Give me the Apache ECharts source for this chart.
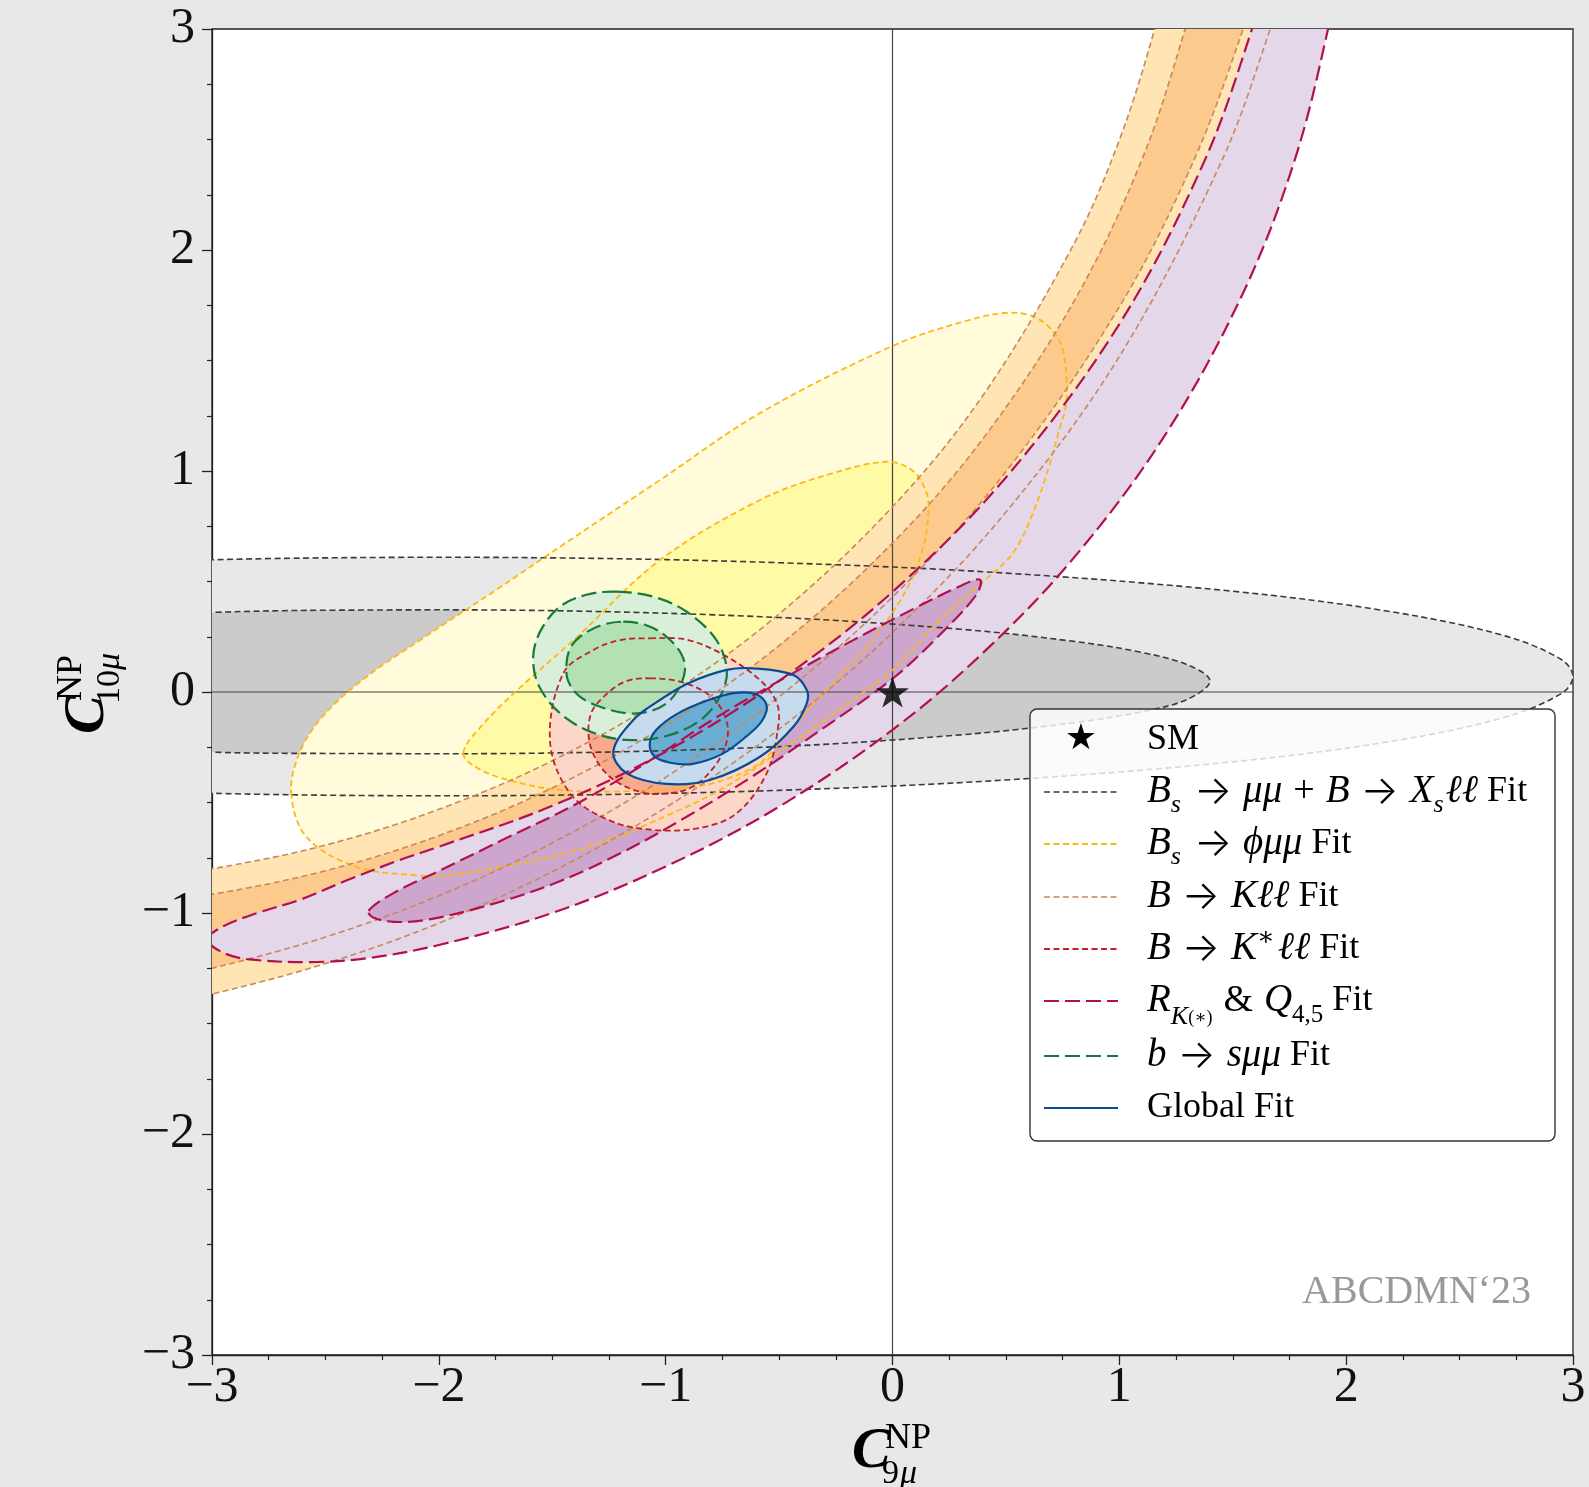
<!DOCTYPE html>
<html><head><meta charset="utf-8">
<script src="https://cdn.jsdelivr.net/npm/echarts@6/dist/echarts.min.js"></script>
<style>html,body{margin:0;padding:0;background:#e7e8e8}#c{width:1589px;height:1487px}</style>
</head><body><div id="c"></div>
<script>
// ---------- axis / tick data ----------
const xTicks = [-3, -2, -1, 0, 1, 2, 3];
const yTicks = [-3, -2, -1, 0, 1, 2, 3];
const zeroLineH = [[-3, 0], [3, 0]];
const zeroLineV = [[0, -3], [0, 3]];
const smPoint = [[0, 0]];

// ---------- contour outlines (C9, C10) ----------
// Bs->mumu + B->Xs ll
const grayOuter = [[-4,0.565],[-3.4,0.588],[-2.5,0.607],[-1.5,0.607],[-0.5,0.585],[0.5,0.538],[1.5,0.456],[2.2,0.363],[2.7,0.254],[2.95,0.146],[3.0,0.07],[2.95,-0.006],[2.7,-0.114],[2.2,-0.223],[1.5,-0.316],[0.5,-0.398],[-0.5,-0.445],[-1.5,-0.467],[-2.5,-0.467],[-3.4,-0.448],[-4,-0.425]];
const grayInner = [[-3.6,0.332],[-3,0.36],[-2.5,0.37],[-1.5,0.368],[-0.5,0.337],[0.3,0.284],[0.8,0.229],[1.1,0.179],[1.3,0.123],[1.4,0.05],[1.3,-0.033],[1.1,-0.089],[0.8,-0.139],[0.3,-0.194],[-0.5,-0.247],[-1.5,-0.276],[-2.5,-0.278],[-3,-0.272],[-3.6,-0.242]];
// Bs->phi mumu
const phiOuter = [[-2.65,-0.47],[-2.62,-0.29],[-2.52,-0.12],[-2.33,0.06],[-2.06,0.25],[-1.75,0.46],[-1.466,0.657],[-1.025,0.959],[-0.584,1.262],[0.0,1.566],[0.3,1.672],[0.505,1.716],[0.64,1.69],[0.735,1.59],[0.765,1.45],[0.765,1.30],[0.739,1.2],[0.69,1.02],[0.619,0.81],[0.531,0.629],[0.40,0.50],[0.209,0.326],[0.0,0.10],[-0.25,-0.09],[-0.466,-0.247],[-0.76,-0.443],[-1.069,-0.593],[-1.29,-0.683],[-1.51,-0.747],[-1.731,-0.792],[-1.951,-0.828],[-2.114,-0.828],[-2.361,-0.792],[-2.58,-0.66]];
const phiInner = [[-1.892,-0.277],[-1.80,-0.14],[-1.642,0.02],[-1.4,0.24],[-1.025,0.597],[-0.584,0.869],[-0.29,0.982],[-0.026,1.042],[0.09,1.0],[0.151,0.899],[0.158,0.809],[0.136,0.657],[0.06,0.46],[-0.1,0.22],[-0.3,0.0],[-0.45,-0.17],[-0.584,-0.321],[-0.75,-0.40],[-0.878,-0.428],[-1.2,-0.45],[-1.466,-0.443],[-1.65,-0.41],[-1.82,-0.35]];
// B->K ll band edges
const kllO1 = [[-3.3,-0.839],[-3,-0.8],[-2.5,-0.693],[-2,-0.531],[-1.5,-0.311],[-1,-0.021],[-0.5,0.353],[0,0.838],[0.4,1.344],[0.8,2.028],[1.001,2.5],[1.156,3.0],[1.224,3.3]];
const kllO4 = [[1.749,3.3],[1.665,3.0],[1.45,2.4],[1.0,1.518],[0.5,0.814],[0,0.269],[-0.5,-0.168],[-1,-0.523],[-1.5,-0.813],[-2,-1.046],[-2.5,-1.229],[-3,-1.367],[-3.3,-1.43]];
const kllI2 = [[-3.3,-0.956],[-3,-0.916],[-2.5,-0.809],[-2,-0.65],[-1.5,-0.434],[-1,-0.151],[-0.5,0.21],[0,0.674],[0.4,1.148],[0.8,1.768],[1.096,2.4],[1.29,3.0],[1.359,3.3]];
const kllI3 = [[1.63,3.3],[1.546,3.0],[1.326,2.4],[1.0,1.743],[0.5,0.997],[0,0.43],[-0.5,-0.021],[-1,-0.386],[-1.5,-0.683],[-2,-0.922],[-2.5,-1.109],[-3,-1.25],[-3.3,-1.313]];
// R_K(*) & Q4,5
const rkOuter = [[-3.02,-1.12],[-2.95,-1.06],[-2.8,-1.0],[-2.612,-0.94],[-2.4,-0.85],[-2.172,-0.76],[-2.0,-0.70],[-1.5,-0.515],[-1.0,-0.27],[-0.5,0.05],[0,0.453],[0.5,0.971],[1.0,1.665],[1.374,2.4],[1.585,3.0],[1.663,3.3],[1.967,3.3],[1.92,3.0],[1.771,2.4],[1.543,1.8],[1.2,1.16],[0.8,0.608],[0.4,0.178],[0,-0.171],[-0.5,-0.519],[-1.0,-0.79],[-1.5,-1.0],[-2.0,-1.145],[-2.318,-1.205],[-2.568,-1.222],[-2.834,-1.21],[-2.95,-1.18]];
const rkInner = [[-2.31,-0.99],[-2.2,-0.91],[-2.0,-0.81],[-1.7,-0.66],[-1.4,-0.51],[-1.1,-0.33],[-0.8,-0.13],[-0.5,0.05],[-0.2,0.22],[0.1,0.38],[0.3,0.48],[0.386,0.508],[0.37,0.44],[0.2,0.25],[0.0,0.06],[-0.3,-0.16],[-0.6,-0.37],[-0.9,-0.56],[-1.2,-0.73],[-1.5,-0.87],[-1.8,-0.97],[-2.05,-1.03],[-2.2,-1.04],[-2.29,-1.02]];
// B->K* ll
const kstOuter = [[-1.07,0.243],[-0.9,0.235],[-0.731,0.16],[-0.58,0.05],[-0.51,-0.05],[-0.503,-0.15],[-0.555,-0.368],[-0.687,-0.549],[-0.85,-0.615],[-1.055,-0.624],[-1.25,-0.58],[-1.422,-0.458],[-1.51,-0.22],[-1.451,0.085],[-1.319,0.19],[-1.2,0.235]];
const kstInner = [[-1.07,0.062],[-0.93,0.045],[-0.8,-0.02],[-0.735,-0.12],[-0.73,-0.22],[-0.78,-0.33],[-0.88,-0.428],[-1.0,-0.46],[-1.12,-0.45],[-1.25,-0.38],[-1.33,-0.25],[-1.33,-0.1],[-1.25,0.0],[-1.17,0.05]];
// b->s mumu
const bsmmOuter = [[-1.216,0.454],[-1.05,0.43],[-0.907,0.363],[-0.78,0.24],[-0.73,0.10],[-0.76,-0.02],[-0.85,-0.13],[-1.0,-0.2],[-1.172,-0.217],[-1.33,-0.18],[-1.466,-0.096],[-1.56,0.03],[-1.584,0.16],[-1.55,0.28],[-1.466,0.386],[-1.35,0.44]];
const bsmmInner = [[-1.187,0.318],[-1.08,0.3],[-0.996,0.25],[-0.93,0.17],[-0.915,0.1],[-0.94,0.02],[-0.996,-0.051],[-1.08,-0.09],[-1.172,-0.096],[-1.28,-0.07],[-1.378,-0.021],[-1.43,0.05],[-1.437,0.13],[-1.42,0.2],[-1.378,0.25],[-1.29,0.3]];
// global fit
const globalOuter = [[-0.378,0.009],[-0.437,0.077],[-0.614,0.107],[-0.731,0.1],[-0.9,0.04],[-1.025,-0.036],[-1.143,-0.127],[-1.231,-0.27],[-1.172,-0.368],[-0.996,-0.416],[-0.805,-0.398],[-0.584,-0.293],[-0.437,-0.157],[-0.378,-0.051]];
const globalInner = [[-0.555,-0.06],[-0.6,-0.01],[-0.70,-0.005],[-0.82,-0.04],[-0.951,-0.1],[-1.04,-0.17],[-1.07,-0.232],[-1.05,-0.29],[-0.98,-0.32],[-0.88,-0.325],[-0.75,-0.28],[-0.643,-0.2],[-0.575,-0.13]];

const kllOuter = kllO1.concat(kllO4);
const kllInner = kllI2.concat(kllI3);

// ---------- styles ----------
const C = {
  gray:  {line:'#3a3a3a', dash:[6,3.5], w:1.6, f1:'#e8e8e8', f2:'#cbcbcb'},
  phi:   {line:'#fdb913', dash:[6,3.5], w:1.8, f1:'#fffbdb', f2:'#fffaa6'},
  kll:   {line:'#c9875a', dash:[6,3.5], w:1.6, f1:'#fee5b3', f2:'#fdca8e'},
  kst:   {line:'#c1202c', dash:[6,3.5], w:1.8, f1:'#fcd6c6', f2:'#f9aa8c'},
  rk:    {line:'#b3104e', dash:[15,6],  w:2.2, f1:'#e3d7e9', f2:'#cda6ce'},
  bsmm:  {line:'#177a38', dash:[15,6],  w:2.2, f1:'#d9efda', f2:'#b4e1b3'},
  glob:  {line:'#0b4b92', dash:null,    w:2.2, f1:'#c6dbee', f2:'#6aaed6'}
};

const fillLayers = [
  [grayOuter,'gray','f1'],[grayInner,'gray','f2'],
  [phiOuter,'phi','f1'],[phiInner,'phi','f2'],
  [kllOuter,'kll','f1'],[kllInner,'kll','f2'],
  [rkOuter,'rk','f1'],[rkInner,'rk','f2'],
  [kstOuter,'kst','f1'],[kstInner,'kst','f2'],
  [bsmmOuter,'bsmm','f1'],[bsmmInner,'bsmm','f2'],
  [globalOuter,'glob','f1'],[globalInner,'glob','f2']
];
const strokeLayers = [
  [grayOuter,'gray'],[grayInner,'gray'],
  [phiOuter,'phi'],[phiInner,'phi'],
  [kllOuter,'kll'],[kllInner,'kll'],
  [kstOuter,'kst'],[kstInner,'kst'],
  [rkOuter,'rk'],[rkInner,'rk'],
  [bsmmOuter,'bsmm'],[bsmmInner,'bsmm'],
  [globalOuter,'glob'],[globalInner,'glob']
];

function clipOf(params){
  const cs = params.coordSys;
  return {type:'rect', shape:{x:cs.x, y:cs.y, width:cs.width, height:cs.height}};
}
function renderFill(params, api){
  const L = fillLayers[params.dataIndex];
  return {type:'polygon', shape:{points:L[0].map(p=>api.coord(p)), smooth:0.35},
    style:{fill:C[L[1]][L[2]], stroke:null}, clipPath:clipOf(params)};
}
function renderStroke(params, api){
  const L = strokeLayers[params.dataIndex];
  const s = C[L[1]];
  return {type:'polygon', shape:{points:L[0].map(p=>api.coord(p)), smooth:0.35},
    style:{fill:null, stroke:s.line, lineWidth:s.w, lineDash:s.dash}, clipPath:clipOf(params)};
}

const serif = "'Liberation Serif','DejaVu Serif',serif";
const fmt = v => (v < 0 ? '\u2212' + Math.abs(v) : String(v));

// ---------- legend ----------
const legendEntries = [
  {key:'sm',  text:'{n|SM}'},
  {key:'gray',text:'{i|B}{sub|s}{ar|\u2192}{i|\u03bc\u03bc}{op|+}{i|B}{ar|\u2192}{i|X}{sub|s}{i|\u2113\u2113}{n| Fit}'},
  {key:'phi', text:'{i|B}{sub|s}{ar|\u2192}{i|\u03d5\u03bc\u03bc}{n| Fit}'},
  {key:'kll', text:'{i|B}{ar|\u2192}{i|K\u2113\u2113}{n| Fit}'},
  {key:'kst', text:'{i|B}{ar|\u2192}{i|K}{sup|\u2217}{i|\u2113\u2113}{n| Fit}'},
  {key:'rk',  text:'{i|R}{subi|K}{subs|(\u2217)}{op|&}{i|Q}{sub2|4,5}{n| Fit}'},
  {key:'bsmm',text:'{i|b}{ar|\u2192}{i|s\u03bc\u03bc}{n| Fit}'},
  {key:'glob',text:'{n|Global Fit}'}
];
const legendRowY = [740, 792, 844, 897, 949, 1001, 1056, 1108];
const rich = {
  n:{fontFamily:serif, fontSize:36, color:'#111', lineHeight:44},
  i:{fontFamily:serif, fontStyle:'italic', fontSize:39, color:'#111', lineHeight:44},
  ar:{fontFamily:"'Inter','Noto Sans','DejaVu Sans'", fontWeight:300, fontSize:40, color:'#111', lineHeight:44, padding:[0,11,0,11]},
  op:{fontFamily:serif, fontSize:38, color:'#111', lineHeight:44, padding:[0,11,0,11]},
  sub:{fontFamily:serif, fontStyle:'italic', fontSize:26, color:'#111', lineHeight:26, verticalAlign:'bottom', padding:[0,2,-4,0]},
  sub2:{fontFamily:serif, fontSize:25, color:'#111', lineHeight:25, verticalAlign:'bottom', padding:[0,0,-5,0]},
  subi:{fontFamily:serif, fontStyle:'italic', fontSize:26, color:'#111', lineHeight:26, verticalAlign:'bottom', padding:[0,0,-7,0]},
  subs:{fontFamily:serif, fontSize:18, color:'#111', lineHeight:18, verticalAlign:'bottom', padding:[0,0,-4,0]},
  sup:{fontFamily:serif, fontSize:26, color:'#111', lineHeight:26, verticalAlign:'top', padding:[-2,3,0,0]}
};
const graphics = [
  {type:'rect', z:100, shape:{x:1030, y:709, width:525, height:432, r:7},
   style:{fill:'rgba(255,255,255,0.8)', stroke:'#333', lineWidth:1.4}}
];
legendEntries.forEach((e, k) => {
  const y = legendRowY[k];
  if (e.key === 'sm') {
    graphics.push({type:'text', z:101, x:1081, y:y, style:{text:'\u2605', fontFamily:"'DejaVu Sans'", fontSize:36, fill:'#000', align:'center', verticalAlign:'middle'}});
  } else {
    const s = C[e.key];
    graphics.push({type:'line', z:101, shape:{x1:1044, y1:y, x2:1118, y2:y},
      style:{stroke:s.line, lineWidth:s.w, lineDash:s.dash}});
  }
  graphics.push({type:'text', z:101, x:1147, y:y, style:{text:e.text, rich:rich, align:'left', verticalAlign:'middle'}});
});
// watermark
graphics.push({type:'text', z:50, x:1531, y:1292, style:{text:'ABCDMN\u201823', fontFamily:serif, fontSize:40, fill:'#999', align:'right', verticalAlign:'middle'}});
// x axis title
graphics.push({type:'group', x:852, y:1452, z:60, children:[
  {type:'text', x:0, y:0, style:{text:'C', fontFamily:serif, fontStyle:'italic', fontWeight:'bold', fontSize:58, fill:'#000', align:'left', verticalAlign:'middle'}},
  {type:'text', x:33, y:-13, style:{text:'NP', fontFamily:serif, fontSize:36, fill:'#000', align:'left', verticalAlign:'middle'}},
  {type:'text', x:30, y:22, style:{text:'9', fontFamily:serif, fontSize:34, fill:'#000', align:'left', verticalAlign:'middle'}},
  {type:'text', x:48, y:22, style:{text:'\u03bc', fontFamily:serif, fontStyle:'italic', fontSize:34, fill:'#000', align:'left', verticalAlign:'middle'}}
]});
// y axis title (rotated)
graphics.push({type:'group', x:88, y:734, rotation:Math.PI/2, z:60, children:[
  {type:'text', x:0, y:0, style:{text:'C', fontFamily:serif, fontStyle:'italic', fontWeight:'bold', fontSize:58, fill:'#000', align:'left', verticalAlign:'middle'}},
  {type:'text', x:33, y:-16, style:{text:'NP', fontFamily:serif, fontSize:36, fill:'#000', align:'left', verticalAlign:'middle'}},
  {type:'text', x:30, y:22, style:{text:'10', fontFamily:serif, fontSize:34, fill:'#000', align:'left', verticalAlign:'middle'}},
  {type:'text', x:64, y:22, style:{text:'\u03bc', fontFamily:serif, fontStyle:'italic', fontSize:34, fill:'#000', align:'left', verticalAlign:'middle'}}
]});

const axisCommon = {
  type:'value', min:-3, max:3, interval:1,
  axisLine:{show:true, onZero:false, lineStyle:{color:'#222', width:1.3}},
  axisTick:{show:true, inside:false, length:10, lineStyle:{color:'#222', width:1.3}},
  minorTick:{show:true, splitNumber:4, length:5, lineStyle:{color:'#222', width:1.2}},
  splitLine:{show:false}, minorSplitLine:{show:false}
};

const option = {
  animation:false,
  backgroundColor:'#e7e8e8',
  grid:{left:212, top:29, right:16, bottom:132, show:true, backgroundColor:'#ffffff', borderColor:'#222', borderWidth:1.3},
  xAxis:Object.assign({}, axisCommon, {axisLabel:{fontFamily:serif, fontSize:50, color:'#111', margin:8, formatter:fmt,
     customValues:xTicks}}),
  yAxis:Object.assign({}, axisCommon, {axisLabel:{fontFamily:serif, fontSize:50, color:'#111', margin:17, formatter:fmt,
     customValues:yTicks}}),
  series:[
    {type:'custom', name:'fills', coordinateSystem:'cartesian2d', z:1, silent:true,
     data:fillLayers.map((l,i)=>[i]), renderItem:renderFill},
    {type:'line', name:'zeroH', data:zeroLineH, z:2, symbol:'none', silent:true, lineStyle:{color:'#444', width:1.2}},
    {type:'line', name:'zeroV', data:zeroLineV, z:2, symbol:'none', silent:true, lineStyle:{color:'#444', width:1.2}},
    {type:'custom', name:'strokes', coordinateSystem:'cartesian2d', z:3, silent:true,
     data:strokeLayers.map((l,i)=>[i]), renderItem:renderStroke},
    {type:'scatter', name:'SM', data:smPoint, z:5, silent:true,
     symbol:'path://M50 0 L61.2 34.5 L97.6 34.5 L68.2 55.9 L79.4 90.5 L50 69.1 L20.6 90.5 L31.8 55.9 L2.4 34.5 L38.8 34.5 Z',
     symbolSize:[33,31], itemStyle:{color:'#000'}}
  ],
  graphic:graphics
};
const chart = echarts.init(document.getElementById('c'), null, {renderer:'canvas'});
chart.setOption(option);
</script></body></html>
